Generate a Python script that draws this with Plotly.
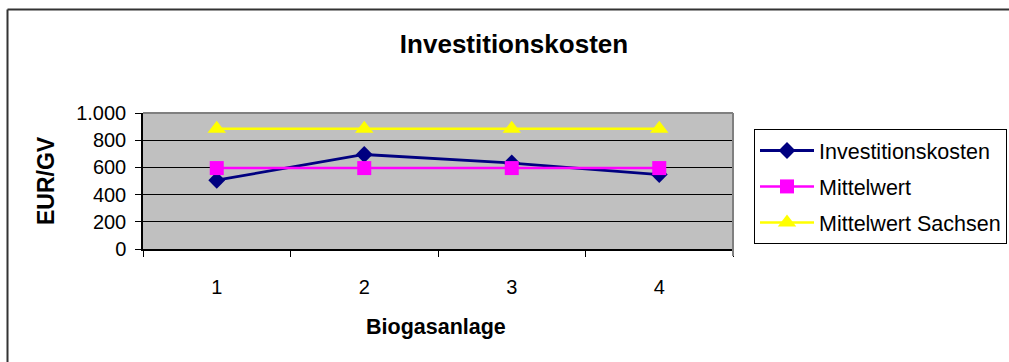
import plotly.graph_objects as go

# Data
anlagen = ["1", "2", "3", "4"]
investitionskosten = [506, 695, 632, 547]
mittelwert = [595, 595, 595, 595]
mittelwert_sachsen = [885, 885, 885, 885]
y_tickvals = [0, 200, 400, 600, 800, 1000]
y_ticktext = ["0", "200", "400", "600", "800", "1.000"]

W, H = 1009, 362
PL, PR, PT, PB = 143, 733, 113, 249  # plot area in pixels
FONT = "Liberation Sans, Arial, sans-serif"

def px_x(px):
    return (px - PL) / (PR - PL)

def px_y(py):
    return (PB - py) / (PB - PT)

fig = go.Figure()
fig.add_trace(go.Scatter(
    x=anlagen, y=investitionskosten, name="Investitionskosten",
    mode="lines+markers", legendgroup="a",
    line=dict(color="#000080", width=2.8),
    marker=dict(symbol="diamond", size=13, color="#000080"),
))
fig.add_trace(go.Scatter(
    x=anlagen, y=mittelwert, name="Mittelwert",
    mode="lines+markers", legendgroup="b",
    line=dict(color="#FF00FF", width=2.5),
    marker=dict(symbol="square", size=14, color="#FF00FF"),
))
fig.add_trace(go.Scatter(
    x=anlagen, y=mittelwert_sachsen, name="Mittelwert Sachsen",
    mode="lines+markers", legendgroup="c",
    line=dict(color="#FFFF00", width=2.5),
    marker=dict(symbol="triangle-up", size=16, color="#FFFF00"),
))

fig.update_layout(
    width=W, height=H,
    margin=dict(l=PL, r=W - PR, t=PT, b=H - PB, pad=0, autoexpand=False),
    paper_bgcolor="white", plot_bgcolor="#C0C0C0",
    font=dict(family=FONT, size=20, color="black"),
    showlegend=True,
    legend=dict(
        x=px_x(754), y=px_y(129), xanchor="left", yanchor="top",
        bordercolor="black", borderwidth=1, bgcolor="white",
        font=dict(family=FONT, size=21.5, color="black"),
        tracegroupgap=5, itemwidth=54,
    ),
    title=dict(
        text="<b>Investitionskosten</b>", font=dict(family=FONT, size=26, color="black"),
        x=514 / W, xref="container", xanchor="center",
        y=1 - 44 / H, yref="container", yanchor="middle",
    ),
)

fig.update_xaxes(
    type="category", range=[-0.5, 3.5], tickson="boundaries",
    showgrid=False, showline=True, linecolor="black", linewidth=1.5,
    ticks="outside", ticklen=6, tickcolor="black", tickwidth=1,
    ticklabelstandoff=19, tickfont=dict(family=FONT, size=20, color="black"),
    zeroline=False,
)
fig.update_yaxes(
    range=[0, 1000], tickvals=y_tickvals, ticktext=y_ticktext,
    showgrid=True, gridcolor="black", gridwidth=1,
    showline=True, linecolor="black", linewidth=1.5,
    ticks="outside", ticklen=6, tickcolor="black", tickwidth=1,
    ticklabelstandoff=5, tickfont=dict(family=FONT, size=20, color="black"),
    zeroline=False,
)

# Axis titles
fig.add_annotation(
    text="<b>EUR/GV</b>", textangle=-90, showarrow=False,
    xref="paper", yref="paper", x=px_x(46), y=px_y(181),
    xanchor="center", yanchor="middle",
    font=dict(family=FONT, size=23, color="black"),
)
fig.add_annotation(
    text="<b>Biogasanlage</b>", showarrow=False,
    xref="paper", yref="paper", x=px_x(436), y=px_y(327),
    xanchor="center", yanchor="middle",
    font=dict(family=FONT, size=21.5, color="black"),
)

# Gray frame on top and right of plot area
fig.add_shape(type="line", xref="paper", yref="paper", x0=0, x1=1, y0=1, y1=1,
              line=dict(color="#808080", width=2), layer="above")
fig.add_shape(type="line", xref="paper", yref="paper", x0=1, x1=1, y0=px_y(256), y1=1,
              line=dict(color="#808080", width=2), layer="above")

# Chart border: left and top edges
fig.add_shape(type="line", xref="paper", yref="paper",
              x0=px_x(7.5), x1=px_x(1009), y0=px_y(9.5), y1=px_y(9.5),
              line=dict(color="#333333", width=2), layer="below")
fig.add_shape(type="line", xref="paper", yref="paper",
              x0=px_x(7.5), x1=px_x(7.5), y0=px_y(362), y1=px_y(9.5),
              line=dict(color="#333333", width=2), layer="below")

# Keep the page from scrolling so no scrollbar is painted over the figure
fig.write_html(
    "out.html",
    post_script="document.documentElement.style.overflow='hidden';"
                "document.body.style.overflow='hidden';",
)
